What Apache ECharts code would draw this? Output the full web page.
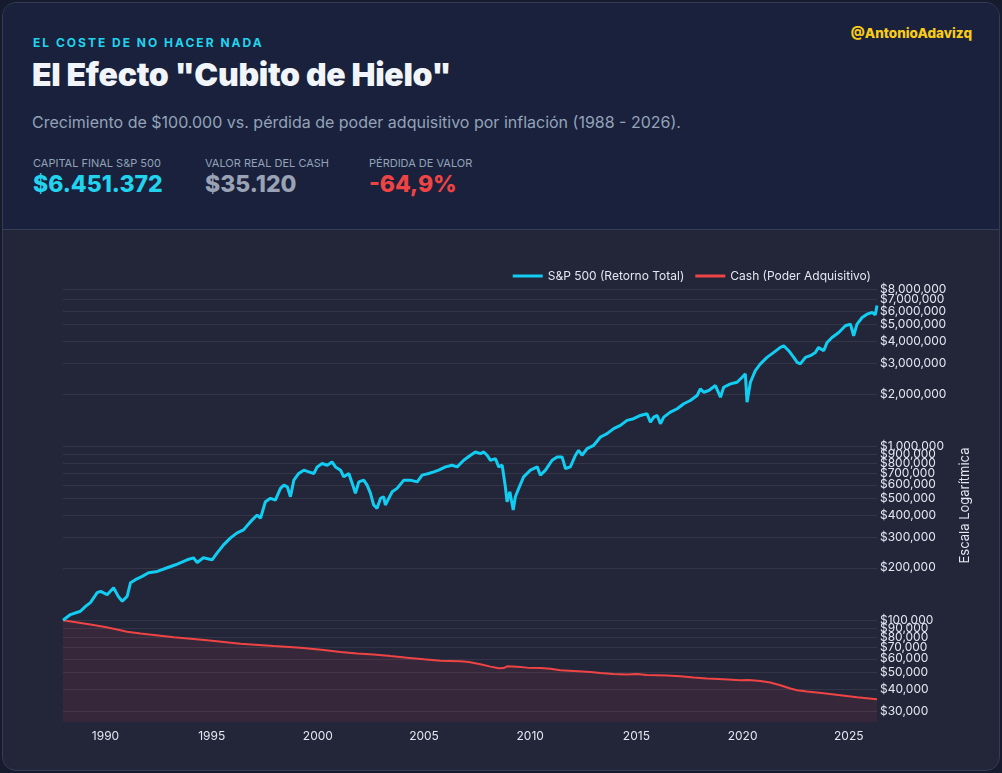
<!DOCTYPE html>
<html lang="es">
<head>
<meta charset="UTF-8">
<title>El Efecto Cubito de Hielo</title>
<script src="https://cdn.jsdelivr.net/npm/echarts@6/dist/echarts.min.js"></script>
<style>
    html, body { margin: 0; padding: 0; }
    body { width: 1002px; height: 773px; background: #161b2e; font-family: Inter, "Noto Sans", sans-serif; position: relative; overflow: hidden; }
    .card { position: absolute; left: 2px; top: 2px; width: 996px; height: 767px; border: 1px solid #343b56; border-radius: 14px; overflow: hidden; background: #232539; }
    .head { position: absolute; left: 0; top: 0; width: 996px; height: 226px; background: #19213c; border-bottom: 1px solid #373e58; }
    .kicker { position: absolute; left: 30px; top: 32px; font-size: 12px; font-weight: 700; letter-spacing: 2.0px; color: #22d3ee; }
    .handle { position: absolute; right: 27px; top: 22px; font-size: 13.5px; font-weight: 800; color: #facc15; }
    h1 { position: absolute; left: 29px; top: 52px; margin: 0; font-size: 32px; font-weight: 900; color: #f1f5f9; letter-spacing: -0.3px; }
    .sub { position: absolute; left: 29px; top: 109px; font-size: 16px; color: #94a3b8; }
    .stat { position: absolute; top: 153px; }
    .stat .lbl { font-size: 11px; color: #94a3b8; }
    .stat .val { font-size: 23px; font-weight: 800; margin-top: 0; }
    #chart { position: absolute; left: 0; top: 230px; width: 1002px; height: 543px; }
</style>
</head>
<body>
<div class="card">
    <div class="head">
        <div class="kicker">EL COSTE DE NO HACER NADA</div>
        <div class="handle">@AntonioAdavizq</div>
        <h1>El Efecto "Cubito de Hielo"</h1>
        <div class="sub">Crecimiento de $100.000 vs. pérdida de poder adquisitivo por inflación (1988 - 2026).</div>
        <div class="stat" style="left:30px;"><div class="lbl">CAPITAL FINAL S&amp;P 500</div><div class="val" style="color:#22d3ee;">$6.451.372</div></div>
        <div class="stat" style="left:202px;"><div class="lbl">VALOR REAL DEL CASH</div><div class="val" style="color:#9aa3b5;">$35.120</div></div>
        <div class="stat" style="left:366px;"><div class="lbl">PÉRDIDA DE VALOR</div><div class="val" style="color:#ef4444;">-64,9%</div></div>
    </div>
</div>
<div id="chart"></div>
<script>
    // valores (año decimal, dolares)
    var spYears = [1988.00, 1988.35, 1988.82, 1989.06, 1989.29, 1989.61, 1989.77, 1990.08, 1990.38, 1990.61,
        1990.79, 1991.02, 1991.18, 1991.41, 1991.73, 1992.03, 1992.44, 1992.91, 1993.30, 1993.85,
        1994.14, 1994.32, 1994.61, 1995.02, 1995.26, 1995.56, 1995.89, 1996.20, 1996.50, 1996.83,
        1997.14, 1997.30, 1997.53, 1997.77, 1998.00, 1998.24, 1998.40, 1998.56, 1998.71, 1998.87,
        1999.10, 1999.34, 1999.57, 1999.81, 1999.97, 2000.20, 2000.44, 2000.67, 2000.83, 2001.07,
        2001.22, 2001.46, 2001.62, 2001.77, 2001.93, 2002.16, 2002.32, 2002.48, 2002.63, 2002.79,
        2002.95, 2003.10, 2003.18, 2003.34, 2003.50, 2003.73, 2004.05, 2004.36, 2004.68, 2004.91,
        2005.22, 2005.46, 2005.69, 2006.01, 2006.32, 2006.56, 2006.87, 2007.19, 2007.42, 2007.66,
        2007.81, 2007.97, 2008.13, 2008.36, 2008.52, 2008.68, 2008.83, 2008.91, 2009.04, 2009.20,
        2009.30, 2009.46, 2009.69, 2010.01, 2010.33, 2010.48, 2010.72, 2011.03, 2011.27, 2011.50,
        2011.66, 2011.89, 2012.13, 2012.28, 2012.44, 2012.68, 2012.99, 2013.31, 2013.62, 2013.93,
        2014.25, 2014.56, 2014.87, 2015.19, 2015.50, 2015.66, 2015.82, 2015.98, 2016.13, 2016.29,
        2016.60, 2016.92, 2017.23, 2017.54, 2017.86, 2018.01, 2018.17, 2018.41, 2018.72, 2018.96,
        2019.11, 2019.43, 2019.74, 2019.98, 2020.13, 2020.21, 2020.37, 2020.60, 2020.84, 2021.15,
        2021.47, 2021.78, 2021.94, 2022.17, 2022.41, 2022.57, 2022.72, 2022.96, 2023.19, 2023.43,
        2023.58, 2023.82, 2023.98, 2024.21, 2024.53, 2024.84, 2025.08, 2025.23, 2025.39, 2025.63,
        2025.86, 2026.10, 2026.25, 2026.33];
    var spValues = [100000, 107800, 112600, 120200, 126300, 144100, 146600, 140300, 153900, 136700,
        128500, 137200, 164300, 171000, 178600, 187500, 190800, 200300, 208400, 222600,
        228500, 214800, 228500, 222600, 244000, 271300, 297400, 317700, 330600, 368700,
        402700, 385500, 480000, 501900, 490800, 572700, 598100, 584800, 512600, 638900,
        697700, 728800, 712700, 697700, 761200, 796100, 778400, 813000, 761200, 728800,
        667200, 697700, 611700, 536000, 624600, 638900, 598100, 536000, 459500, 439900,
        501900, 512600, 459500, 501900, 547600, 572700, 638900, 638900, 624600, 682300,
        697700, 712700, 728800, 761200, 778400, 761200, 831600, 888100, 927700, 908200,
        927700, 888100, 830000, 850000, 761200, 778400, 584800, 480000, 547600, 430200,
        512600, 572700, 667200, 728800, 761200, 682300, 728800, 831600, 868600, 868600,
        745600, 761200, 888100, 948600, 888100, 970000, 1013200, 1130300, 1182200, 1262700,
        1318800, 1408500, 1440600, 1504400, 1538700, 1377400, 1471100, 1504400, 1348600, 1471100,
        1571300, 1643500, 1755600, 1833700, 1958400, 2139600, 2045600, 2091800, 2234800, 1915100,
        2185000, 2285300, 2334200, 2492900, 2606800, 1793200, 2334200, 2722700, 2974400, 3244800,
        3465000, 3701800, 3785300, 3543300, 3244800, 3037400, 2974400, 3244800, 3318100, 3465000,
        3701800, 3543300, 3953700, 4223000, 4511300, 4927600, 5038700, 4319300, 5038700, 5496600,
        5748700, 5871800, 5700000, 6451372];

    var cashYears = [1988.00, 1989.29, 1989.92, 1990.55, 1991.02, 1991.65, 1993.22, 1994.79, 1996.36, 1997.92,
        1999.18, 2000.28, 2001.07, 2001.85, 2002.63, 2003.42, 2004.20, 2004.99, 2005.77, 2006.71,
        2007.11, 2007.66, 2008.13, 2008.52, 2008.75, 2008.91, 2009.38, 2009.86, 2010.48, 2010.95,
        2011.42, 2012.05, 2012.83, 2013.31, 2013.93, 2014.56, 2015.03, 2015.50, 2016.45, 2017.07,
        2017.70, 2018.33, 2019.11, 2019.90, 2020.29, 2020.84, 2021.31, 2021.78, 2022.25, 2022.57,
        2023.04, 2023.82, 2024.61, 2025.39, 2026.33];
    var cashValues = [100000, 94490, 91670, 88470, 85820, 83910, 79930, 76830, 73270, 70990,
        69500, 67330, 65580, 64470, 63630, 62210, 60920, 59570, 58400, 58020,
        57490, 55770, 54110, 52900, 53110, 54330, 54110, 53400, 53110, 52690,
        51530, 51050, 50380, 49720, 49070, 48680, 49070, 48430, 48040, 47600,
        46790, 46180, 45750, 45150, 45330, 44730, 43810, 42280, 40470, 39580,
        38910, 38050, 37070, 36090, 35120];

    var xTickYears = [1990, 1995, 2000, 2005, 2010, 2015, 2020, 2025];
    var yTicks = [30000, 40000, 50000, 60000, 70000, 80000, 90000,
        100000, 200000, 300000, 400000, 500000, 600000, 700000, 800000, 900000,
        1000000, 2000000, 3000000, 4000000, 5000000, 6000000, 7000000, 8000000];

    var seriesNames = ['S&P 500 (Retorno Total)', 'Cash (Poder Adquisitivo)'];

    var spData = spYears.map(function (y, i) { return [y, spValues[i]]; });
    var cashData = cashYears.map(function (y, i) { return [y, cashValues[i]]; });

    // la etiqueta de 7M va en un segundo eje para que no se oculte junto a la de 8M
    var yLabelsMain = yTicks.filter(function (v) { return v !== 7000000; });
    var yLabelsExtra = [7000000];

    var yMin = 26000, yMax = 8020000;
    function money(v) { return '$' + Math.round(v).toLocaleString('en-US'); }

    var myChart = echarts.init(document.getElementById('chart'), null, { renderer: 'canvas' });
    var option = {
        animation: false,
        textStyle: { fontFamily: 'Inter, "Noto Sans", sans-serif' },
        legend: {
            right: 126,
            top: 35,
            itemWidth: 30,
            itemHeight: 3,
            itemGap: 11,
            icon: 'rect',
            textStyle: { color: '#e2e8f0', fontSize: 12 },
            data: seriesNames
        },
        grid: { left: 63, right: 125, top: 59, bottom: 51 },
        xAxis: {
            type: 'value',
            min: spYears[0],
            max: spYears[spYears.length - 1],
            axisLine: { show: false },
            axisTick: { show: false },
            splitLine: { show: false },
            axisLabel: {
                customValues: xTickYears,
                color: '#e2e8f0',
                fontSize: 12,
                margin: 8,
                formatter: function (v) { return String(Math.round(v)); }
            }
        },
        yAxis: [
            {
                type: 'log',
                logBase: 10,
                position: 'right',
                min: yMin,
                max: yMax,
                name: 'Escala Logarítmica',
                nameLocation: 'middle',
                nameRotate: 90,
                nameGap: 82,
                nameTextStyle: { color: '#e2e8f0', fontSize: 13 },
                axisLine: { show: false },
                axisTick: { show: false, customValues: yTicks },
                splitLine: { show: true, lineStyle: { color: 'rgba(255,255,255,0.08)', width: 1 } },
                axisLabel: {
                    customValues: yLabelsMain,
                    showMaxLabel: true,
                    hideOverlap: false,
                    color: '#e2e8f0',
                    fontSize: 12,
                    margin: 3,
                    formatter: money
                }
            },
            {
                type: 'log',
                logBase: 10,
                position: 'right',
                offset: 0,
                min: yMin,
                max: yMax,
                axisLine: { show: false },
                axisTick: { show: false },
                splitLine: { show: false },
                axisLabel: {
                    customValues: yLabelsExtra,
                    showMaxLabel: true,
                    showMinLabel: true,
                    color: '#e2e8f0',
                    fontSize: 12,
                    margin: 3,
                    formatter: money
                }
            }
        ],
        series: [
            {
                name: seriesNames[0],
                type: 'line',
                data: spData,
                yAxisIndex: 0,
                showSymbol: false,
                z: 3,
                itemStyle: { color: '#12cdf2' },
                lineStyle: { color: '#12cdf2', width: 3 }
            },
            {
                name: seriesNames[1],
                type: 'line',
                data: cashData,
                yAxisIndex: 0,
                showSymbol: false,
                z: 2,
                itemStyle: { color: '#ef4444' },
                lineStyle: { color: '#ef4444', width: 2 },
                areaStyle: { color: 'rgba(239,68,68,0.14)', origin: 'start' }
            }
        ]
    };
    myChart.setOption(option);
</script>
</body>
</html>
